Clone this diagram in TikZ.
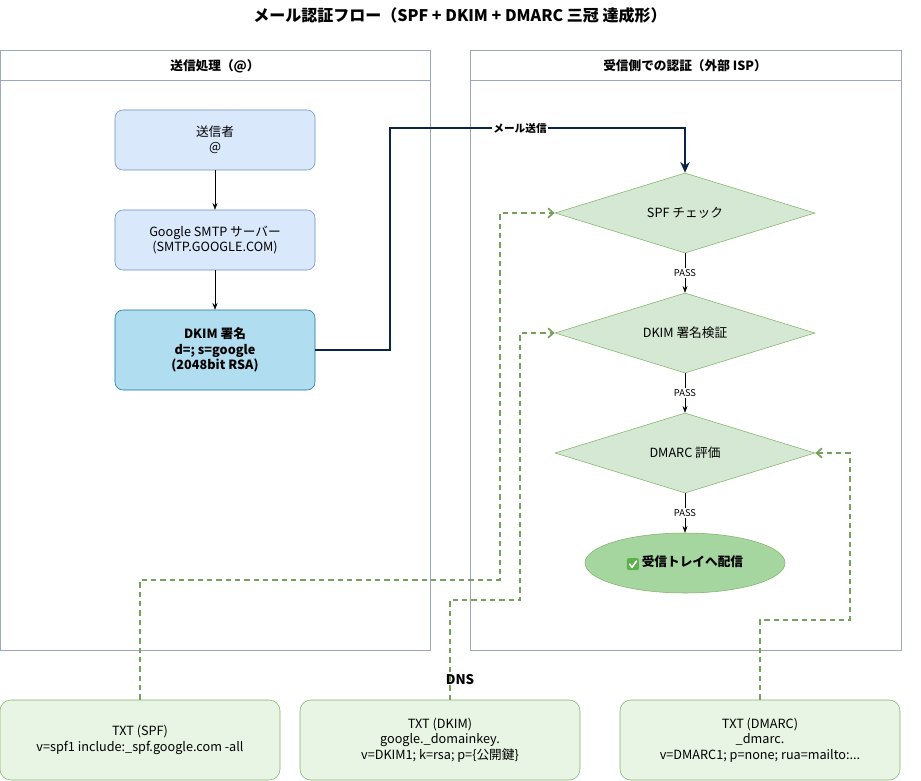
\documentclass[tikz,border=0pt]{standalone}
\usepackage{fontspec}
\setmainfont{Noto Sans CJK JP}
\usetikzlibrary{shapes.geometric,arrows.meta}
\definecolor{cbord}{HTML}{9AA8C4}
\definecolor{bfill}{HTML}{DAE8FC}\definecolor{bbord}{HTML}{6C8EBF}
\definecolor{dfill}{HTML}{B1DDF0}\definecolor{dbord}{HTML}{10739E}
\definecolor{gfill}{HTML}{D5E8D4}\definecolor{gbord}{HTML}{82B366}
\definecolor{efill}{HTML}{A5D6A0}\definecolor{tfill}{HTML}{E8F5E4}
\definecolor{navy}{HTML}{0B2545}\definecolor{chk}{HTML}{5DB04E}
\newcommand{\chkmark}{\tikz[baseline=-1pt,x=1pt,y=1pt]{\fill[chk,rounded corners=1.5pt] (-4.5,-3.5) rectangle (4.5,5.5);\draw[white,line width=1.2pt,line cap=round,line join=round] (-2.5,1)--(-0.7,-1.4)--(2.8,3.4);}}
\tikzset{
 box/.style={draw=bbord,fill=bfill,rounded corners=6pt,minimum width=150pt,minimum height=45pt,align=center,font=\fontsize{9.5}{11.5}\selectfont},
 dia/.style={diamond,draw=gbord,fill=gfill,aspect=3.25,minimum width=195pt,minimum height=60pt,inner sep=0pt,font=\fontsize{9.5}{11.5}\selectfont},
 txt/.style={draw=gbord,fill=tfill,rounded corners=8pt,minimum width=210pt,minimum height=60pt,align=center,font=\fontsize{9.5}{11.5}\selectfont},
 cont/.style={draw=cbord,fill=white},
 dns/.style={draw=gbord!90!black,dashed,dash pattern=on 4pt off 3pt,line width=1.3pt,-{Straight Barb[open,length=4pt,width=7pt]}},
 pass/.style={fill=white,font=\fontsize{7}{8}\selectfont,inner sep=1pt},
 hdr/.style={font=\bfseries\fontsize{9.5}{11}\selectfont}
}
\begin{document}
\begin{tikzpicture}[x=0.75pt,y=-0.75pt]
\useasboundingbox (0,0) rectangle (921,781);
\node[font=\bfseries\fontsize{12}{14}\selectfont] (title) at (460,15) {メール認証フロー（SPF + DKIM + DMARC 三冠 達成形）};
\draw[cont] (0,50) rectangle (430,650); \draw[cbord] (0,80)--(430,80);
\node[hdr] (lh) at (215,66) {送信処理（@）};
\draw[cont] (470,50) rectangle (901,650); \draw[cbord] (470,80)--(901,80);
\node[hdr] (rh) at (685,66) {受信側での認証（外部 ISP）};
\node[box] (snd) at (215,140) {送信者\\@};
\node[box] (smtp) at (215,240) {Google SMTP サーバー\\(SMTP.GOOGLE.COM)};
\node[box,fill=dfill,draw=dbord,minimum height=60pt,font=\bfseries\fontsize{9.5}{11.5}\selectfont] (sig) at (215,350) {DKIM 署名\\d=; s=google\\(2048bit RSA)};
\draw[-{Stealth[length=5pt]}] (snd)--(smtp);
\draw[-{Stealth[length=5pt]}] (smtp)--(sig);
\node[dia] (spf) at (685,213) {SPF チェック};
\node[dia] (dk) at (685,333) {DKIM 署名検証};
\node[dia] (dm) at (685,453) {DMARC 評価};
\node[ellipse,draw=gbord,fill=efill,minimum width=150pt,minimum height=45pt,font=\bfseries\fontsize{9.5}{11.5}\selectfont] (inbox) at (685,563) {\chkmark\ 受信トレイへ配信};
\draw[navy,line width=1.5pt,-{Stealth[length=8pt,width=7pt]}] (sig.east) -- (390,350) -- (390,128) -- (685,128) -- (spf.north);
\node[fill=white,inner sep=1pt,font=\bfseries\fontsize{8}{9}\selectfont] (ml) at (520,128) {メール送信};
\draw[-{Stealth[length=5pt]}] (spf)--(dk) node[pass,midway]{PASS};
\draw[-{Stealth[length=5pt]}] (dk)--(dm) node[pass,midway]{PASS};
\draw[-{Stealth[length=5pt]}] (dm)--(inbox) node[pass,midway]{PASS};
\node[font=\bfseries\fontsize{10}{11}\selectfont] (dnsl) at (460,680) {DNS};
\node[txt] (t1) at (140,740) {TXT (SPF)\\v=spf1 include:\_spf.google.com -all};
\node[txt] (t2) at (440,740) {TXT (DKIM)\\google.\_domainkey.\\v=DKIM1; k=rsa; p=\{公開鍵\}};
\node[txt] (t3) at (760,740) {TXT (DMARC)\\\_dmarc.\\v=DMARC1; p=none; rua=mailto:...};
\draw[dns] (t1.north) -- (140,580) -- (500,580) -- (500,213) -- (spf.west);
\draw[dns] (450,700) -- (450,600) -- (520,600) -- (520,333) -- (dk.west);
\draw[dns] (t3.north) -- (760,620) -- (850,620) -- (850,453) -- (dm.east);
\end{tikzpicture}
\end{document}
